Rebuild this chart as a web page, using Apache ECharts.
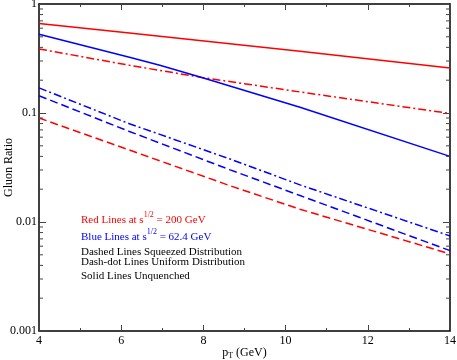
<!DOCTYPE html>
<html>
<head>
<meta charset="utf-8">
<script src="https://cdn.jsdelivr.net/npm/echarts@6/dist/echarts.min.js"></script>
<style>
  html, body { margin: 0; padding: 0; background: #fff; }
  #myChart { width: 457px; height: 360px; }
</style>
</head>
<body>
<div id="myChart"></div>
<script>
// values: [pT, ratio]
let redSolid = [[4, 0.662], [6.2, 0.543], [10.35, 0.368], [14, 0.259]]
let redDashDot = [[4, 0.387], [6.2, 0.274], [7.96, 0.212], [10.35, 0.156], [14, 0.099]]
let redDashed = [[4, 0.090], [8.65, 0.0215], [10.35, 0.0131], [14, 0.0051]]
let blueSolid = [[4, 0.527], [6.2, 0.324], [6.94, 0.274], [7.96, 0.212], [10.35, 0.113], [14, 0.040]]
let blueDashDot = [[4, 0.170], [6.2, 0.0797], [8.65, 0.0378], [10.35, 0.0219], [14, 0.00745]]
let blueDashed = [[4, 0.144], [6.2, 0.0677], [8.65, 0.0301], [10.35, 0.0175], [14, 0.00546]]

// axis ticks
let xMin = 4, xMax = 14, xStep = 2
let yMin = 0.001, yMax = 1
let decades = [0.001, 0.01, 0.1]
let minorSteps = [2, 3, 4, 5, 6, 7, 8, 9]

let minorTickData = []
decades.forEach(d => minorSteps.forEach(m => minorTickData.push([xMin, d * m])))

let serif = 'Liberation Serif'
let RED = '#ff0000', BLUE = '#0000ff'

function line(data, color, type) {
  return {
    type: 'line',
    data: data,
    showSymbol: false,
    smooth: false,
    silent: true,
    lineStyle: { color: color, width: 1.5, type: type },
    z: 3
  }
}

let tickStyle = { color: '#444', width: 1 }

let myChart = echarts.init(document.getElementById('myChart'), null, { renderer: 'canvas' })

myChart.setOption({
  backgroundColor: '#fff',
  animation: false,
  textStyle: { fontFamily: serif },
  grid: { left: 39, right: 7, top: 4, bottom: 29, containLabel: false, outerBoundsMode: 'none' },
  xAxis: [{
    type: 'value',
    min: xMin,
    max: xMax,
    interval: xStep,
    name: 'p{sub|T} (GeV)',
    nameLocation: 'middle',
    nameGap: 15,
    nameMoveOverlap: false,
    nameTextStyle: {
      fontFamily: serif, fontSize: 12, color: '#000',
      rich: { sub: { fontFamily: serif, fontSize: 8, verticalAlign: 'bottom', padding: [6, 0, 0, 0] } }
    },
    axisLine: { lineStyle: { color: '#000', width: 1.5 } },
    axisTick: { inside: true, length: 6, lineStyle: tickStyle },
    minorTick: { show: true, splitNumber: 2, length: 3, lineStyle: tickStyle },
    axisLabel: { color: '#000', fontFamily: serif, fontSize: 12, margin: 4 },
    splitLine: { show: false }
  }, {
    type: 'value',
    position: 'top',
    min: xMin,
    max: xMax,
    interval: xStep,
    axisLine: { lineStyle: { color: '#000', width: 1.5 } },
    axisTick: { inside: true, length: 6, lineStyle: tickStyle },
    minorTick: { show: true, splitNumber: 2, length: 3, lineStyle: tickStyle },
    axisLabel: { show: false },
    splitLine: { show: false }
  }],
  yAxis: [{
    type: 'log',
    logBase: 10,
    min: yMin,
    max: yMax,
    name: 'Gluon Ratio',
    nameLocation: 'middle',
    nameGap: 24,
    nameMoveOverlap: false,
    nameTextStyle: { fontFamily: serif, fontSize: 12, color: '#000' },
    axisLine: { lineStyle: { color: '#000', width: 1.5 } },
    axisTick: { inside: true, length: 7, lineStyle: tickStyle },
    axisLabel: { color: '#000', fontFamily: serif, fontSize: 12, margin: 2 },
    splitLine: { show: false }
  }, {
    type: 'log',
    logBase: 10,
    min: yMin,
    max: yMax,
    position: 'right',
    axisLine: { show: true, lineStyle: { color: '#000', width: 1.5 } },
    axisTick: { show: true, inside: true, length: 7, lineStyle: tickStyle },
    axisLabel: { show: false },
    splitLine: { show: false }
  }],
  series: [
    line(redSolid, RED, 'solid'),
    line(redDashDot, RED, [8, 3, 2, 3]),
    line(redDashed, RED, [8, 4]),
    line(blueSolid, BLUE, 'solid'),
    line(blueDashDot, BLUE, [8, 3, 2, 3]),
    line(blueDashed, BLUE, [8, 4]),
    {
      // minor ticks of the log axis on both sides
      type: 'custom',
      data: minorTickData,
      clip: false,
      silent: true,
      z: 4,
      renderItem: function (params, api) {
        let v = api.value(1)
        let l = api.coord([xMin, v])
        let r = api.coord([xMax, v])
        let style = { stroke: '#444', lineWidth: 1 }
        return {
          type: 'group',
          children: [
            { type: 'line', shape: { x1: l[0], y1: l[1], x2: l[0] + 4, y2: l[1] }, style: style },
            { type: 'line', shape: { x1: r[0], y1: r[1], x2: r[0] - 4, y2: r[1] }, style: style }
          ]
        }
      }
    }
  ],
  graphic: [{
    type: 'group',
    left: 81,
    top: 211,
    children: [{
      type: 'text',
      x: 0, y: 0,
      style: {
        text: '{a|Red Lines at s}{sup|1/2}{a| = 200 GeV}',
        rich: {
          a: { fontFamily: serif, fontSize: 11, fill: RED, padding: [4, 0, 0, 0] },
          sup: { fontFamily: serif, fontSize: 8, fill: RED, verticalAlign: 'top', padding: [0, 0, 3, 0] }
        }
      }
    }, {
      type: 'text',
      x: 0, y: 17,
      style: {
        text: '{a|Blue Lines at s}{sup|1/2}{a| = 62.4 GeV}',
        rich: {
          a: { fontFamily: serif, fontSize: 11, fill: BLUE, padding: [4, 0, 0, 0] },
          sup: { fontFamily: serif, fontSize: 8, fill: BLUE, verticalAlign: 'top', padding: [0, 0, 3, 0] }
        }
      }
    }, {
      type: 'text',
      x: 0, y: 36,
      style: { text: 'Dashed Lines Squeezed Distribution', font: '11px "Liberation Serif"', fill: '#000' }
    }, {
      type: 'text',
      x: 0, y: 46,
      style: { text: 'Dash-dot Lines Uniform Distribution', font: '11px "Liberation Serif"', fill: '#000' }
    }, {
      type: 'text',
      x: 0, y: 60,
      style: { text: 'Solid Lines Unquenched', font: '11px "Liberation Serif"', fill: '#000' }
    }]
  }]
})
</script>
</body>
</html>
